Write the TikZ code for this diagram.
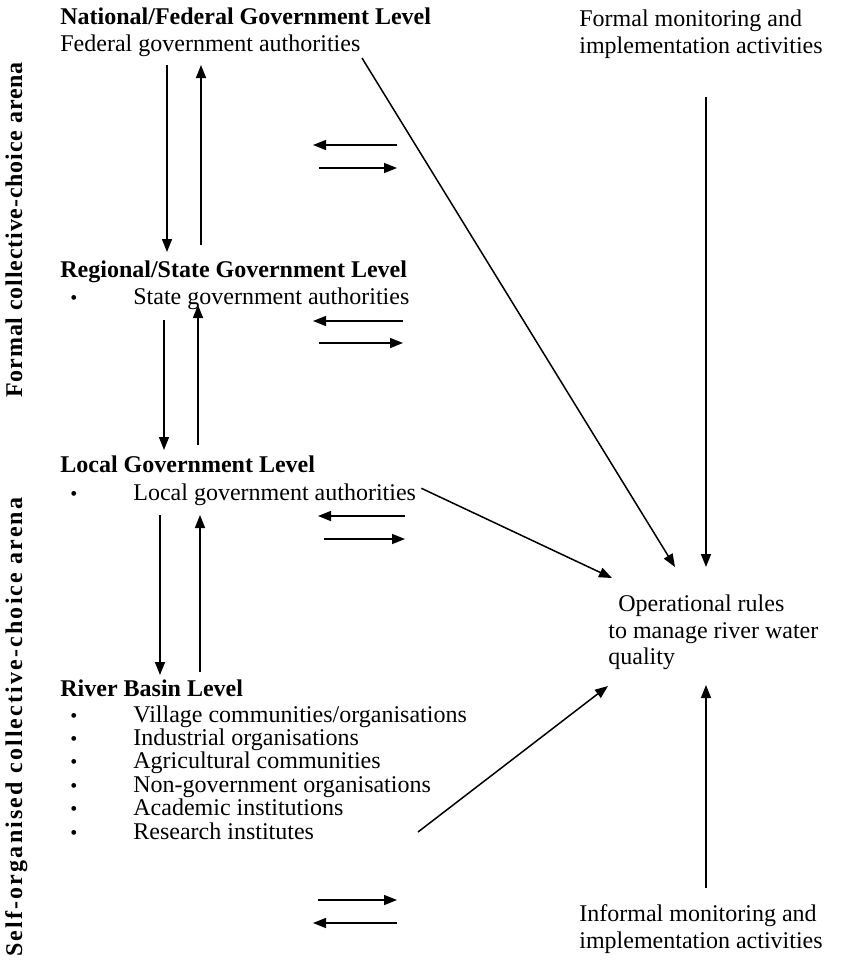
\documentclass[tikz,border=0pt]{standalone}
\usepackage{fontspec}
\setmainfont{Liberation Serif}
\usetikzlibrary{arrows.meta}

\begin{document}
\begin{tikzpicture}[x=0.5pt, y=-0.5pt,
    txt/.style={inner sep=0pt, anchor=base west, font=\fontsize{12}{14}\selectfont},
    head/.style={txt, font=\fontsize{12}{14}\selectfont\bfseries},
    arena/.style={inner sep=0pt, rotate=90, anchor=base west, font=\fontsize{12}{14}\selectfont\bfseries},
    bul/.style={inner sep=0pt, anchor=base west, font=\fontsize{10}{12}\selectfont},
    arr/.style={-{Triangle[length=6.5pt,width=5pt]}, line width=0.75pt}]
    \useasboundingbox (0,0) rectangle (843,960);
    % Arena labels
    \node[arena] (formal) at (22,398) {\addfontfeature{LetterSpace=3.5}Formal collective-choice arena};
    \node[arena] (selforg) at (22,957) {\addfontfeature{LetterSpace=9}Self-organised collective-choice arena};
    % Levels
    \node[head] (national) at (60,24) {National/Federal Government Level};
    \node[txt] (fedgov) at (60,51) {Federal government authorities};
    \node[head] (regional) at (60,277) {Regional/State Government Level};
    \node[bul] (b1) at (70,304) {\textbullet};
    \node[txt] (stategov) at (133,304) {State government authorities};
    \node[head] (local) at (60,472) {Local Government Level};
    \node[bul] (b2) at (70,500) {\textbullet};
    \node[txt] (localgov) at (133,500) {Local government authorities};
    \node[head] (basin) at (60,696) {River Basin Level};
    \foreach \lbl [count=\i] in {Village communities/organisations, Industrial organisations,
        Agricultural communities, Non-government organisations, Academic institutions,
        Research institutes} {
        \node[bul] (bb\i) at (70,{722+23.4*(\i-1)}) {\textbullet};
        \node[txt] (item\i) at (133,{722+23.4*(\i-1)}) {\lbl};
    }
    % Right side
    \node[txt] (formalmon) at (579,26) {Formal monitoring and};
    \node[txt] (formalmon2) at (579,53) {implementation activities};
    \node[txt] (ops) at (618,611) {Operational rules};
    \node[txt] (ops2) at (608,638) {to manage river water};
    \node[txt] (ops3) at (608,664) {quality};
    \node[txt] (informalmon) at (579,921) {Informal monitoring and};
    \node[txt] (informalmon2) at (579,948) {implementation activities};
    % Arrow ends
    \coordinate (opsA) at (675,567);
    \coordinate (opsB) at (706,567);
    \coordinate (opsC) at (612,578);
    \coordinate (opsD) at (608,686);
    \coordinate (opsE) at (706,685);
    % Vertical arrows between levels
    \draw[arr] (167,65) -- (167,252);
    \draw[arr] (201,245) -- (201,65);
    \draw[arr] (164,320) -- (164,450);
    \draw[arr] (198,445) -- (198,305);
    \draw[arr] (160,515) -- (160,675);
    \draw[arr] (200,672) -- (200,515);
    % Horizontal arrows
    \foreach \ya/\yb/\xa/\xb in {145/168/313/397, 321/343/313/403, 516/539/318/405} {
        \draw[arr] (\xb,\ya) -- (\xa,\ya);
        \draw[arr] (\xa+6,\yb) -- (\xb,\yb);
    }
    \draw[arr] (318,900) -- (397,900);
    \draw[arr] (397,923) -- (313,923);
    % To operational rules
    \draw[arr] (362,58) -- (opsA);
    \draw[arr] (706,97) -- (opsB);
    \draw[arr] (localgov.east) ++(5,-6) -- (opsC);
    \draw[arr] (418,832) -- (opsD);
    \draw[arr] (706,888) -- (opsE);
\end{tikzpicture}
\end{document}
